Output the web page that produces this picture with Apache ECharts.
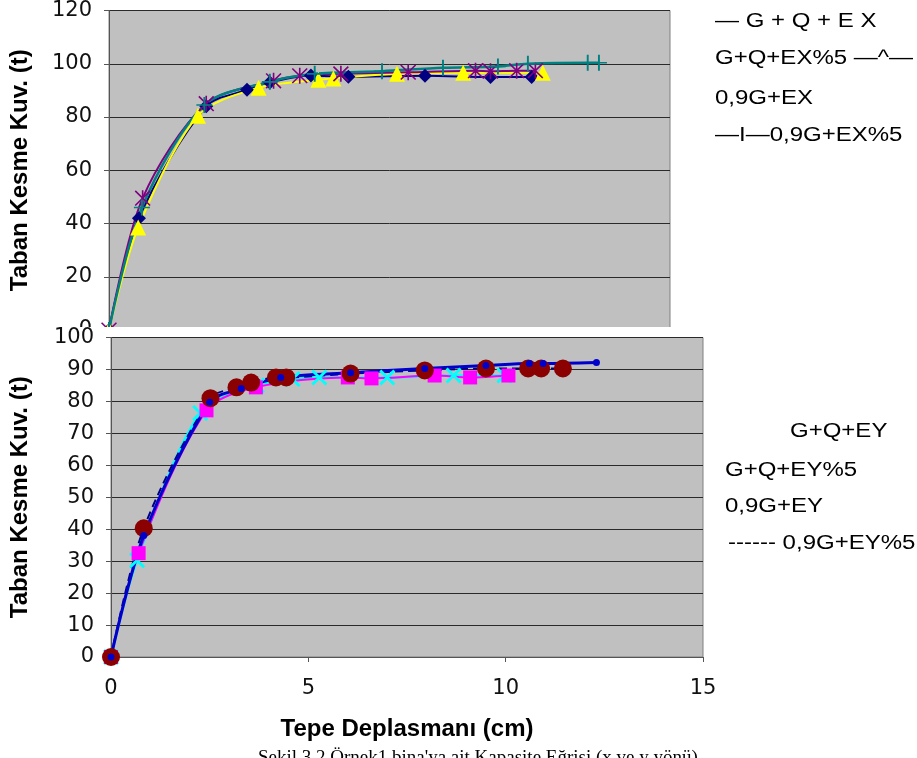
<!DOCTYPE html>
<html>
<head>
<meta charset="utf-8">
<script src="https://cdn.jsdelivr.net/npm/echarts@6/dist/echarts.min.js"></script>
<style>
  html, body { margin: 0; padding: 0; background: #fff; width: 917px; height: 758px; overflow: hidden; }
  #topChart { position: absolute; left: 0; top: 0; width: 917px; height: 360px; }
  #bottomChart { position: absolute; left: 0; top: 327px; width: 917px; height: 431px; background: #fff; }
</style>
</head>
<body>
<div id="topChart"></div>
<div id="bottomChart"></div>
<script>
// Capacity curves, X direction: [top displacement (cm), base shear (t)]
const gqEX   = [[0,0],[0.8,42],[2.6,84],[3.69,90.2],[4.3,93],[5.4,95.6],[6.4,95.1],[8.45,95.5],[10.2,95],[11.3,95]];
const gqEX5  = [[0,0],[0.78,38.5],[2.38,80.5],[4.0,91],[5.6,94],[6.0,94.5],[7.7,96.2],[9.47,96.6],[11.6,96.6]];
const g09EX  = [[0,0],[0.9,49.5],[2.6,85],[4.4,93.6],[5.1,95.5],[6.2,96.2],[8.0,96.8],[9.8,97.4],[10.2,97.2],[10.9,97.4],[11.4,97.4]];
const g09EX5 = [[0,0],[0.88,46],[2.55,84.5],[4.3,93.2],[5.5,96.2],[7.3,97.2],[8.93,98.5],[10.4,99],[11.2,100],[12.8,100.4],[13.1,100.4]];

// Capacity curves, Y direction
const gqEY   = [[0,0],[0.83,38],[2.5,79.7],[3.3,84],[4.3,87.5],[6.07,89],[7.95,90.3],[9.5,91.2],[10.6,91.9],[10.95,91.9],[12.3,92.2]];
const gqEY5  = [[0,0],[0.7,32.5],[2.42,77.2],[3.67,84.4],[6.0,87.5],[6.6,87.2],[8.2,88.1],[9.1,87.5],[10.07,88.1]];
const g09EY  = [[0,0],[0.83,40.3],[2.52,81],[3.18,84.4],[3.55,85.9],[4.18,87.5],[4.44,87.5],[6.07,88.7],[7.95,89.7],[9.5,90.3],[10.57,90.3],[10.9,90.3],[11.45,90.3]];
const g09EY5 = [[0,0],[0.66,30.3],[2.26,76.4],[3.7,85],[4.6,87],[5.28,87.5],[7.0,87.5],[8.68,88.1],[9.97,88.1]];

// Legend lines as they appear beside each plot
const legendTop    = ['— G + Q + E X', 'G+Q+EX%5 —^—', '0,9G+EX', '—I—0,9G+EX%5'];
const legendBottom = ['G+Q+EY', 'G+Q+EY%5', '0,9G+EY', '------ 0,9G+EY%5'];

const yTitle  = 'Taban Kesme Kuv. (t)';
const xTitle  = 'Tepe Deplasmanı (cm)';
const caption = 'Şekil 3.2 Örnek1 bina\'ya ait Kapasite Eğrisi (x ve y yönü)';

// Marker shapes
const STAR  = 'path://M9 0L11 0L11 20L9 20Z M1.6 0.2L19.8 18.4L18.4 19.8L0.2 1.6Z M18.4 0.2L19.8 1.6L1.6 19.8L0.2 18.4Z';
const PLUS  = 'path://M8.8 0L11.2 0L11.2 20L8.8 20Z M0 9L20 9L20 11L0 11Z';
const CROSS = 'path://M2.5 0L20 17.5L17.5 20L0 2.5Z M17.5 0L20 2.5L2.5 20L0 17.5Z';

const labelFont = 'DejaVu Sans';
const titleFont = 'Liberation Sans';

function valueAxisY(max, step, gap) {
  return {
    type: 'value', min: 0, max: max, interval: step,
    name: yTitle, nameLocation: 'middle', nameRotate: 90, nameGap: gap,
    nameTextStyle: { fontFamily: titleFont, fontWeight: 'bold', fontSize: 24, color: '#000' },
    axisLine: { show: true, lineStyle: { color: '#555', width: 1 } },
    axisTick: { show: true, length: 5, lineStyle: { color: '#555' } },
    axisLabel: { fontFamily: labelFont, fontSize: 21, color: '#111', margin: 17 },
    splitLine: { show: true, lineStyle: { color: '#2a2a2a', width: 1 } }
  };
}

function line(name, data, color, width, symbol, size, markerColor, extra) {
  return Object.assign({
    name: name, type: 'line', data: data, smooth: 0.3, clip: false,
    symbol: symbol, symbolSize: size, showSymbol: true,
    lineStyle: { color: color, width: width },
    itemStyle: { color: markerColor || color, borderWidth: 0 },
    emphasis: { disabled: true }
  }, extra || {});
}

function legendGraphics(lines, positions) {
  return lines.map((t, i) => ({
    type: 'text', left: positions[i][0], top: positions[i][1] - 12,
    scaleX: 1.2, originX: 0,
    style: { text: t, fontFamily: titleFont, fontSize: 20, fill: '#000' }
  }));
}

// Upper plot (X direction)
const topChart = echarts.init(document.getElementById('topChart'), null, { renderer: 'canvas' });
topChart.setOption({
  animation: false,
  grid: { left: 109, top: 9, width: 561, height: 321, show: true, backgroundColor: '#c0c0c0', borderColor: '#808080', borderWidth: 1 },
  xAxis: {
    type: 'value', min: 0, max: 15, interval: 5,
    axisLine: { show: true, lineStyle: { color: '#555' } },
    axisLabel: { show: false }, axisTick: { show: false }, splitLine: { show: false }
  },
  yAxis: valueAxisY(120, 20, 77),
  series: [
    line('G+Q+EX',    gqEX,   '#000080', 2, 'diamond', 14),
    line('G+Q+EX%5',  gqEX5,  '#ffff00', 2, 'triangle', 16),
    line('0,9G+EX',   g09EX,  '#800080', 2, STAR, 16),
    line('0,9G+EX%5', g09EX5, '#008080', 2.5, PLUS, 16)
  ],
  graphic: legendGraphics(legendTop, [[715, 23], [715, 60], [715, 100], [715, 137]])
});

// Lower plot (Y direction)
const bottomChart = echarts.init(document.getElementById('bottomChart'), null, { renderer: 'canvas' });
bottomChart.setOption({
  animation: false,
  grid: { left: 107, top: 10, width: 596, height: 320, show: true, backgroundColor: '#c0c0c0', borderColor: '#808080', borderWidth: 1 },
  xAxis: {
    type: 'value', min: 0, max: 15, interval: 5,
    name: xTitle, nameLocation: 'middle', nameGap: 60,
    nameTextStyle: { fontFamily: titleFont, fontWeight: 'bold', fontSize: 24, color: '#000' },
    axisLine: { show: true, onZero: false, lineStyle: { color: '#555' } },
    axisTick: { show: true, length: 5, lineStyle: { color: '#555' } },
    axisLabel: { fontFamily: labelFont, fontSize: 21, color: '#111', margin: 21 },
    splitLine: { show: false }
  },
  yAxis: valueAxisY(100, 10, 79),
  series: [
    line('0,9G+EY%5', g09EY5, '#00ffff', 2.5, CROSS, 16),
    line('G+Q+EY%5',  gqEY5,  '#ff00ff', 2, 'rect', 14),
    line('0,9G+EY',   g09EY,  '#000080', 2, 'circle', 18, '#8b0000', { lineStyle: { color: '#000080', width: 2, type: [8, 5] } }),
    line('G+Q+EY',    gqEY,   '#0000cc', 3, 'circle', 7)
  ],
  graphic: legendGraphics(legendBottom, [[790, 433 - 327], [725, 472 - 327], [725, 508 - 327], [728, 545 - 327]]).concat([{
    type: 'text', left: 258, top: 422,
    style: { text: caption, fontFamily: 'Liberation Serif', fontSize: 19, fill: '#000' }
  }])
});
</script>
</body>
</html>
